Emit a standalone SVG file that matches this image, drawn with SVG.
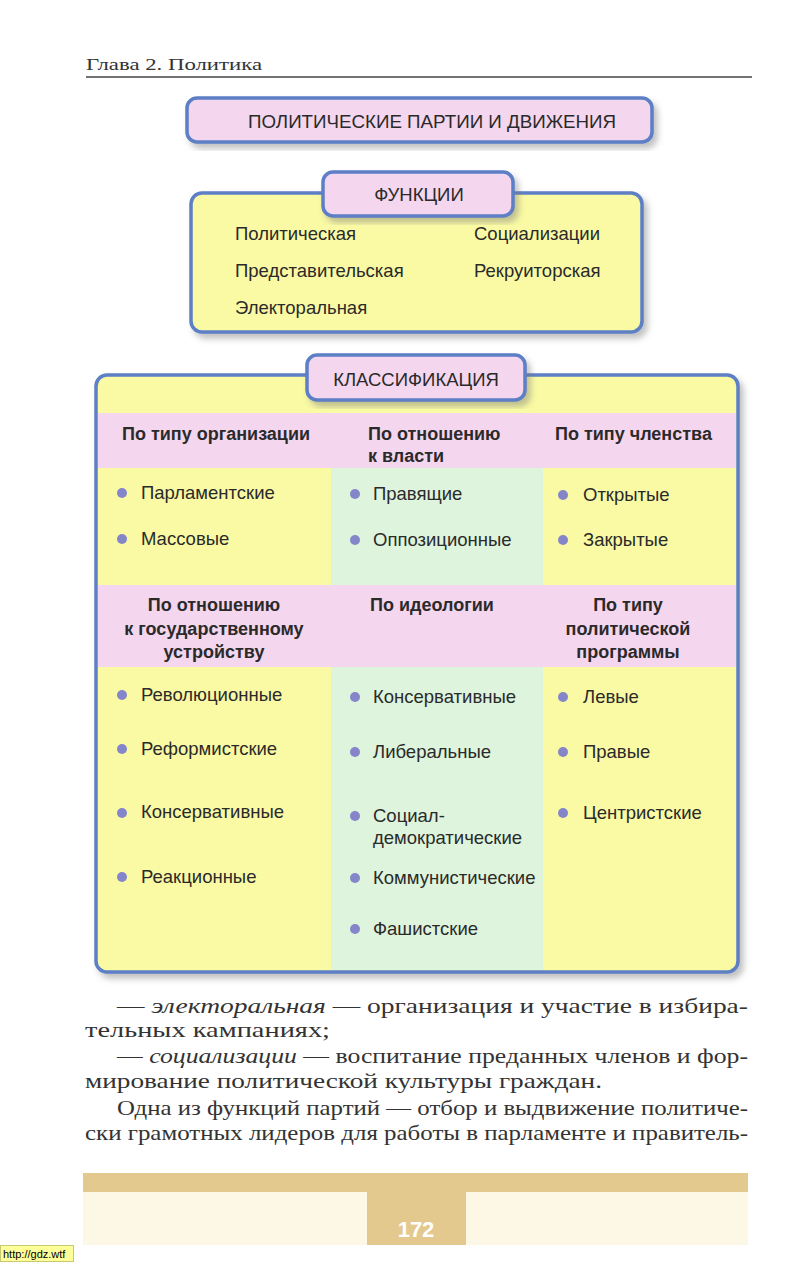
<svg xmlns="http://www.w3.org/2000/svg" width="793" height="1262" viewBox="0 0 793 1262">
<defs>
<filter id="sh" x="-10%" y="-10%" width="125%" height="130%">
<feDropShadow dx="4" dy="5" stdDeviation="3" flood-color="#777" flood-opacity="0.45"/>
</filter>
<style>
.box{stroke:#5b7fc6;stroke-width:3.5}
.pk{fill:#f4d6ee}
.yl{fill:#fafaa4}
.gr{fill:#dff4dc}
.t{font-family:"Liberation Sans",Arial,sans-serif;fill:#2a2a2a}
.cap{font-size:18.5px}
.it{font-size:18.5px}
.hd{font-size:18px;font-weight:bold}
.bu{fill:#8585c9}
.ser{font-family:"Liberation Serif","Times New Roman",serif;fill:#333;font-size:21px}
</style>
</defs>
<rect width="793" height="1262" fill="#ffffff"/>

<g id="page-header">
<text x="86" y="70" font-family="Liberation Serif,serif" font-size="17" fill="#333" textLength="176" lengthAdjust="spacingAndGlyphs">Глава 2. Политика</text>
<line x1="86" y1="77" x2="752" y2="77" stroke="#444" stroke-width="1.3"/>
</g>

<g id="title">
<rect x="187" y="98" width="465" height="44" rx="10" class="box pk" filter="url(#sh)"/>
<text x="432" y="128" text-anchor="middle" class="t" font-size="18" textLength="368" lengthAdjust="spacingAndGlyphs">ПОЛИТИЧЕСКИЕ ПАРТИИ И ДВИЖЕНИЯ</text>
</g>

<g id="functions">
<rect x="191" y="193" width="451" height="139" rx="11" class="box yl" filter="url(#sh)"/>
<rect x="323" y="172" width="190" height="44" rx="10" class="box pk" filter="url(#sh)"/>
<text x="419" y="201" text-anchor="middle" class="t cap">ФУНКЦИИ</text>
<text x="235" y="240" class="t it">Политическая</text>
<text x="474" y="240" class="t it">Социализации</text>
<text x="235" y="277" class="t it">Представительская</text>
<text x="474" y="277" class="t it">Рекруиторская</text>
<text x="235" y="314" class="t it">Электоральная</text>
</g>

<g id="classification">
<rect x="96" y="375" width="642" height="597" rx="11" class="box yl" filter="url(#sh)"/>
<rect x="331" y="468" width="212" height="502" class="gr"/>
<rect x="98" y="413" width="638" height="55" class="pk"/>
<rect x="98" y="585" width="638" height="82" class="pk"/>
<rect x="307" y="355" width="218" height="45" rx="10" class="box pk" filter="url(#sh)"/>
<text x="416" y="386" text-anchor="middle" class="t cap">КЛАССИФИКАЦИЯ</text>
</g>

<g id="col-organization">
<text x="122" y="440" class="t hd">По типу организации</text>
<circle cx="122" cy="493" r="5" class="bu"/>
<text x="141" y="499" class="t it">Парламентские</text>
<circle cx="122" cy="539" r="5" class="bu"/>
<text x="141" y="545" class="t it">Массовые</text>
</g>

<g id="col-power">
<text x="368" y="440" class="t hd">По отношению</text>
<text x="368" y="462" class="t hd">к власти</text>
<circle cx="355" cy="494" r="5" class="bu"/>
<text x="373" y="500" class="t it">Правящие</text>
<circle cx="355" cy="540" r="5" class="bu"/>
<text x="373" y="546" class="t it">Оппозиционные</text>
</g>

<g id="col-membership">
<text x="555" y="440" class="t hd">По типу членства</text>
<circle cx="563" cy="495" r="5" class="bu"/>
<text x="583" y="501" class="t it">Открытые</text>
<circle cx="563" cy="540" r="5" class="bu"/>
<text x="583" y="546" class="t it">Закрытые</text>
</g>

<g id="col-state">
<text x="214" y="611" text-anchor="middle" class="t hd">По отношению</text>
<text x="214" y="635" text-anchor="middle" class="t hd">к государственному</text>
<text x="214" y="658" text-anchor="middle" class="t hd">устройству</text>
<circle cx="122" cy="695" r="5" class="bu"/>
<text x="141" y="701" class="t it">Революционные</text>
<circle cx="122" cy="749" r="5" class="bu"/>
<text x="141" y="755" class="t it">Реформистские</text>
<circle cx="122" cy="813" r="5" class="bu"/>
<text x="141" y="818" class="t it">Консервативные</text>
<circle cx="122" cy="877" r="5" class="bu"/>
<text x="141" y="883" class="t it">Реакционные</text>
</g>

<g id="col-ideology">
<text x="432" y="611" text-anchor="middle" class="t hd">По идеологии</text>
<circle cx="355" cy="697" r="5" class="bu"/>
<text x="373" y="703" class="t it">Консервативные</text>
<circle cx="355" cy="752" r="5" class="bu"/>
<text x="373" y="758" class="t it">Либеральные</text>
<circle cx="355" cy="816" r="5" class="bu"/>
<text x="373" y="822" class="t it">Социал-</text>
<text x="373" y="844" class="t it">демократические</text>
<circle cx="355" cy="878" r="5" class="bu"/>
<text x="373" y="884" class="t it">Коммунистические</text>
<circle cx="355" cy="929" r="5" class="bu"/>
<text x="373" y="935" class="t it">Фашистские</text>
</g>

<g id="col-program">
<text x="628" y="611" text-anchor="middle" class="t hd">По типу</text>
<text x="628" y="635" text-anchor="middle" class="t hd">политической</text>
<text x="628" y="658" text-anchor="middle" class="t hd">программы</text>
<circle cx="563" cy="697" r="5" class="bu"/>
<text x="583" y="703" class="t it">Левые</text>
<circle cx="563" cy="752" r="5" class="bu"/>
<text x="583" y="758" class="t it">Правые</text>
<circle cx="563" cy="813" r="5" class="bu"/>
<text x="583" y="819" class="t it">Центристские</text>
</g>

<g id="connectors"></g>

<g id="body-text">
<text x="117" y="1013" class="ser" textLength="631" lengthAdjust="spacingAndGlyphs">— <tspan font-style="italic">электоральная</tspan> — организация и участие в избира-</text>
<text x="85" y="1037" class="ser" textLength="245" lengthAdjust="spacingAndGlyphs">тельных кампаниях;</text>
<text x="117" y="1063" class="ser" textLength="631" lengthAdjust="spacingAndGlyphs">— <tspan font-style="italic">социализации</tspan> — воспитание преданных членов и фор-</text>
<text x="85" y="1088" class="ser" textLength="517" lengthAdjust="spacingAndGlyphs">мирование политической культуры граждан.</text>
<text x="117" y="1115" class="ser" textLength="631" lengthAdjust="spacingAndGlyphs">Одна из функций партий — отбор и выдвижение политиче-</text>
<text x="85" y="1140" class="ser" textLength="663" lengthAdjust="spacingAndGlyphs">ски грамотных лидеров для работы в парламенте и правитель-</text>
</g>

<g id="footer">
<rect x="83" y="1173" width="665" height="19" fill="#e3c98e"/>
<rect x="83" y="1192" width="665" height="53" fill="#fdf7e6"/>
<rect x="367" y="1192" width="99" height="53" fill="#e3c98e"/>
<text x="416" y="1237" text-anchor="middle" font-family="Liberation Sans,Arial,sans-serif" font-size="22" font-weight="bold" fill="#ffffff">172</text>
</g>

<g id="watermark">
<rect x="0.5" y="1245.5" width="73" height="16" fill="#ffff99" stroke="#c8c870" stroke-width="1"/>
<text x="3" y="1258" font-family="Liberation Sans,Arial,sans-serif" font-size="11" fill="#000">http://gdz.wtf</text>
</g>
</svg>
